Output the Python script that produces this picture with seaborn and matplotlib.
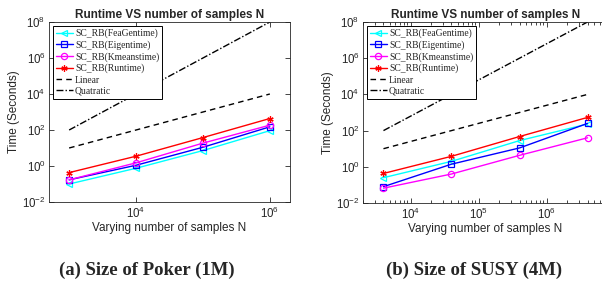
import matplotlib
matplotlib.use("Agg")
import pandas as pd
import matplotlib.pyplot as plt
import seaborn as sns
from matplotlib.ticker import FixedLocator, LogLocator, LogFormatterSciNotation, NullLocator

# Poker (1M)
poker_n = [1e3, 1e4, 1e5, 1e6]
poker_feagen = [0.1, 0.75, 7.2, 92]
poker_eigen = [0.17, 1.1, 11, 150]
poker_kmeans = [0.17, 1.5, 18.7, 186]
poker_runtime = [0.43, 3.5, 38, 435]
poker_linear = [10, 100, 1000, 10000]
poker_quadratic = [1e2, 1e4, 1e6, 1e8]

# SUSY (4M)
susy_n = [4e3, 4e4, 4e5, 4e6]
susy_feagen = [0.25, 2.0, 28, 230]
susy_eigen = [0.08, 1.4, 11, 250]
susy_kmeans = [0.066, 0.4, 4.3, 40]
susy_runtime = [0.43, 3.8, 47, 535]
susy_linear = [10, 100, 1000, 10000]
susy_quadratic = [1e2, 1e4, 1e6, 1e8]

labels = ["SC_RB(FeaGentime)", "SC_RB(Eigentime)", "SC_RB(Kmeanstime)",
          "SC_RB(Runtime)", "Linear", "Quatratic"]
colors = ["#00ffff", "#0000ff", "#ff00ff", "#ff0000", "black", "black"]
markers = ["<", "s", "o", (6, 2, 0), None, None]
styles = ["-", "-", "-", "-", (0, (4, 3)), (0, (5, 1.5, 1, 1.5))]

GRAY = "#262626"


def draw_panel(ax, n, series, xlim, xticks, minor_x, caption, cap_x):
    ax.set_xscale("log")
    ax.set_yscale("log")
    for lab, col, mk, ls, vals in zip(labels, colors, markers, styles, series):
        df = pd.DataFrame({"N": n, "t": vals})
        sns.lineplot(data=df, x="N", y="t", ax=ax, color=col, marker=mk,
                     linestyle=ls, linewidth=1.0, markersize=4.5,
                     markerfacecolor="none", markeredgecolor=col,
                     markeredgewidth=0.9, label=lab)
    ax.set_xlim(*xlim)
    ax.set_ylim(1e-2, 1e8)
    ax.yaxis.set_major_locator(FixedLocator([1e-2, 1e0, 1e2, 1e4, 1e6, 1e8]))
    ax.yaxis.set_minor_locator(NullLocator())
    ax.xaxis.set_major_locator(FixedLocator(xticks))
    if minor_x:
        ax.xaxis.set_minor_locator(LogLocator(base=10, subs=range(2, 10)))
    else:
        ax.xaxis.set_minor_locator(NullLocator())
    ax.xaxis.set_major_formatter(LogFormatterSciNotation())
    ax.yaxis.set_major_formatter(LogFormatterSciNotation())
    ax.tick_params(which="both", direction="in", top=True, right=True,
                   colors=GRAY, labelsize=8.3, width=0.6, pad=2.5)
    ax.tick_params(which="major", length=3.5)
    ax.tick_params(which="minor", length=2)
    for sp in ax.spines.values():
        sp.set_visible(True)
        sp.set_color(GRAY)
        sp.set_linewidth(0.6)
    ax.set_title("Runtime VS number of samples N", fontsize=8.5,
                 fontweight="bold", pad=3)
    ax.set_xlabel("Varying number of samples N", fontsize=8.5, color=GRAY, labelpad=1)
    ax.set_ylabel("Time (Seconds)", fontsize=8.5, color=GRAY, labelpad=1)
    leg = ax.legend(loc="upper left", frameon=True, fancybox=False,
                    edgecolor="black", framealpha=1, handlelength=1.8,
                    handletextpad=0.2, labelspacing=0.22, borderpad=0.3,
                    borderaxespad=0.4, prop={"family": "Liberation Serif", "size": 6.9})
    leg.get_frame().set_linewidth(0.7)
    ax.figure.text(cap_x, 0.046, caption, ha="center", va="center",
                   fontsize=13.5, fontweight="bold", family="Liberation Serif")


sns.set_style("ticks")
plt.rcParams["font.family"] = ["Liberation Sans", "DejaVu Sans"]

fig = plt.figure(figsize=(6.02, 2.83), dpi=100)
ax1 = fig.add_axes([49 / 602, 1 - 202 / 283, 241 / 602, 180 / 283])
ax2 = fig.add_axes([363 / 602, 1 - 203 / 283, 245 / 602, 181 / 283])

draw_panel(ax1, poker_n,
           [poker_feagen, poker_eigen, poker_kmeans, poker_runtime, poker_linear, poker_quadratic],
           (5e2, 2e6), [1e4, 1e6], False, "(a) Size of Poker (1M)", 147 / 602)
draw_panel(ax2, susy_n,
           [susy_feagen, susy_eigen, susy_kmeans, susy_runtime, susy_linear, susy_quadratic],
           (2e3, 8e6), [1e4, 1e5, 1e6], True, "(b) Size of SUSY (4M)", 474 / 602)

fig.savefig("out.png", dpi=100)
